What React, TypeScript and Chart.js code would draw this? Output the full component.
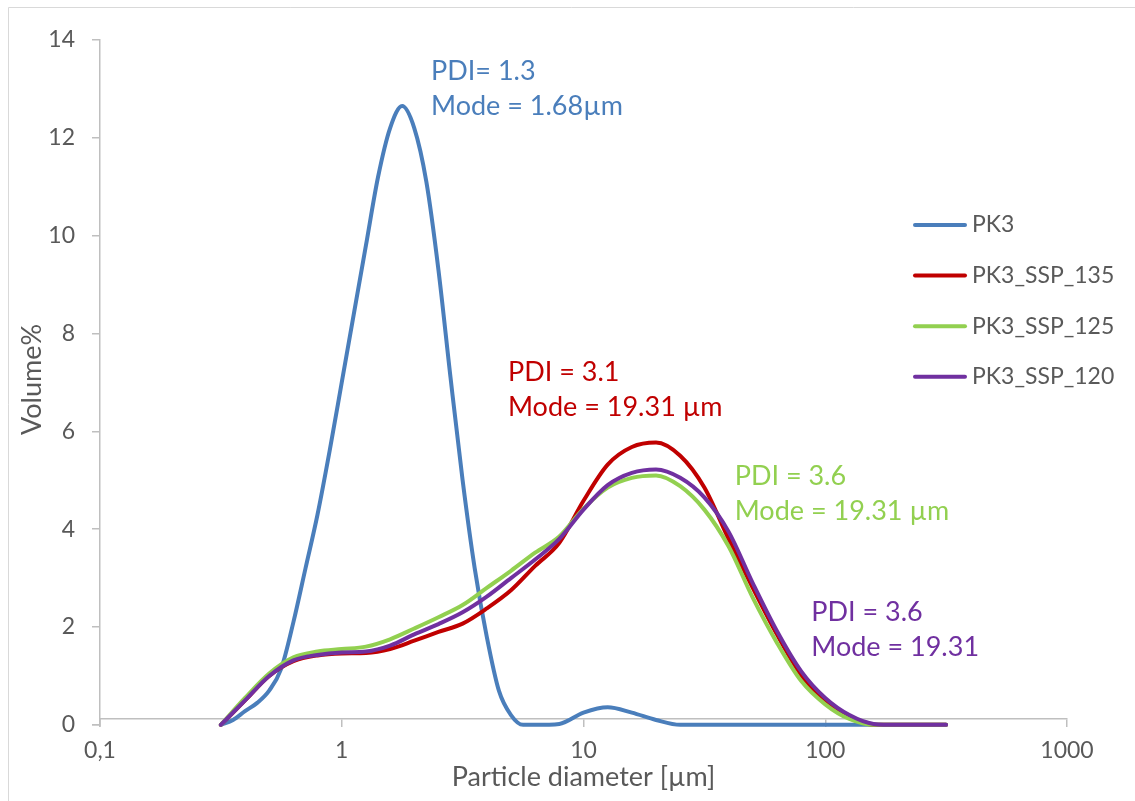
import React, { useEffect, useRef } from "react";
import { Chart, registerables } from "chart.js";

Chart.register(...registerables);

const FONT = "Lato, 'Open Sans', sans-serif";
const AXIS_COLOR = "#BFBFBF";
const TEXT_COLOR = "#595959";

// ---- data ----
const seriesLabels = ["PK3", "PK3_SSP_135", "PK3_SSP_125", "PK3_SSP_120"];
const seriesColors = ["#4A7EBB", "#C00000", "#92D050", "#7030A0"];

const pk3Sizes = [
  0.316, 0.355, 0.398, 0.447, 0.501, 0.562, 0.631, 0.708, 0.794, 0.891, 1.0,
  1.122, 1.259, 1.413, 1.585, 1.778, 1.995, 2.239, 2.512, 2.818, 3.162, 3.548,
  3.981, 4.467, 5.012, 5.623, 6.31, 7.943, 10, 12.59, 15.85, 19.95, 25.12,
  31.62, 50.12, 100, 199.5, 316.2,
];
const pk3Volume = [
  0, 0.1, 0.28, 0.45, 0.7, 1.15, 2.1, 3.2, 4.3, 5.6, 7.0, 8.4, 9.8, 11.2, 12.2,
  12.65, 12.2, 11.1, 9.3, 7.1, 5.0, 3.2, 1.8, 0.7, 0.2, 0, 0, 0.02, 0.25, 0.36,
  0.25, 0.1, 0, 0, 0, 0, 0, 0,
];

const sspSizes = [
  0.316, 0.398, 0.501, 0.631, 0.794, 1.0, 1.259, 1.585, 1.995, 2.512, 3.162,
  3.981, 5.012, 6.31, 7.943, 10, 12.59, 15.85, 19.95, 25.12, 31.62, 39.81,
  50.12, 63.1, 79.43, 100, 125.9, 158.5, 199.5, 251.2, 316.2,
];
const ssp135Volume = [
  0, 0.5, 1.0, 1.3, 1.42, 1.46, 1.47, 1.55, 1.72, 1.9, 2.07, 2.38, 2.75, 3.25,
  3.72, 4.58, 5.32, 5.68, 5.77, 5.5, 4.85, 3.8, 2.8, 1.85, 1.02, 0.5, 0.17, 0,
  0, 0, 0,
];
const ssp125Volume = [
  0, 0.55, 1.05, 1.38, 1.5, 1.55, 1.6, 1.75, 1.97, 2.2, 2.45, 2.8, 3.15, 3.52,
  3.85, 4.42, 4.85, 5.05, 5.1, 4.88, 4.4, 3.65, 2.6, 1.68, 0.9, 0.42, 0.12, 0,
  0, 0, 0,
];
const ssp120Volume = [
  0, 0.5, 1.0, 1.32, 1.43, 1.48, 1.5, 1.62, 1.85, 2.06, 2.3, 2.62, 3.0, 3.38,
  3.8, 4.4, 4.9, 5.15, 5.22, 5.05, 4.65, 3.95, 2.9, 1.92, 1.1, 0.55, 0.2, 0.02,
  0, 0, 0,
];

const xTickValues = [0.1, 1, 10, 100, 1000];
const xTickLabels = ["0,1", "1", "10", "100", "1000"];
const yTickValues = [0, 2, 4, 6, 8, 10, 12, 14];
const yAxisCross = 0.12; // the x axis crosses slightly above the data zero
const yMax = 14;

const noteTexts = [
  ["PDI= 1.3", "Mode = 1.68µm"],
  ["PDI = 3.1", "Mode = 19.31 µm"],
  ["PDI = 3.6", "Mode = 19.31 µm"],
  ["PDI = 3.6", "Mode = 19.31"],
];
const noteX = [2.34, 4.87, 42.2, 87.5];
const noteY = [13.36, 7.21, 5.09, 2.31];

// ---- layout (pixels) ----
const W = 1135;
const H = 801;
const LEGEND_X = 913;
const LEGEND_TOP = 225;
const LEGEND_STEP = 50.6;
const NOTE_LINE = 35;
const TICK_LEN = 8;

function pairs(xs: number[], ys: number[]) {
  return xs.map((x, i) => ({ x, y: ys[i] }));
}

const decorPlugin = {
  id: "decor",
  beforeDraw(chart: any) {
    const ctx = chart.ctx;
    ctx.save();
    ctx.fillStyle = "#ffffff";
    ctx.fillRect(0, 0, chart.width, chart.height);
    ctx.strokeStyle = "#D9D9D9";
    ctx.lineWidth = 1;
    ctx.beginPath();
    ctx.moveTo(8.5, chart.height);
    ctx.lineTo(8.5, 7.5);
    ctx.lineTo(chart.width, 7.5);
    ctx.stroke();
    ctx.restore();
  },
  afterDraw(chart: any) {
    const ctx = chart.ctx;
    const xs = chart.scales.x;
    const ys = chart.scales.y;
    const area = chart.chartArea;
    ctx.save();
    // y axis continues below the crossing point down to its zero tick
    const zeroPx = ys.getPixelForValue(0);
    ctx.strokeStyle = AXIS_COLOR;
    ctx.lineWidth = 1.5;
    ctx.beginPath();
    ctx.moveTo(area.left, area.bottom);
    ctx.lineTo(area.left, zeroPx + 2);
    ctx.moveTo(area.left - TICK_LEN, zeroPx);
    ctx.lineTo(area.left, zeroPx);
    ctx.stroke();

    ctx.textBaseline = "middle";
    ctx.textAlign = "left";
    ctx.font = `27px ${FONT}`;
    noteTexts.forEach((lines, i) => {
      const px = xs.getPixelForValue(noteX[i]);
      const py = ys.getPixelForValue(noteY[i]);
      ctx.fillStyle = seriesColors[i];
      lines.forEach((t, j) => ctx.fillText(t, px, py + j * NOTE_LINE));
    });
    ctx.font = `23px ${FONT}`;
    chart.data.datasets.forEach((ds: any, i: number) => {
      const y = LEGEND_TOP + i * LEGEND_STEP;
      ctx.strokeStyle = ds.borderColor;
      ctx.lineWidth = 4;
      ctx.lineCap = "round";
      ctx.beginPath();
      ctx.moveTo(LEGEND_X + 2, y);
      ctx.lineTo(LEGEND_X + 52, y);
      ctx.stroke();
      ctx.fillStyle = TEXT_COLOR;
      ctx.fillText(ds.label, LEGEND_X + 59, y);
    });
    ctx.restore();
  },
};

export default function App() {
  const canvasRef = useRef<HTMLCanvasElement | null>(null);

  useEffect(() => {
    if (!canvasRef.current) return;
    Chart.defaults.font.family = FONT;
    const seriesData = [
      pairs(pk3Sizes, pk3Volume),
      pairs(sspSizes, ssp135Volume),
      pairs(sspSizes, ssp125Volume),
      pairs(sspSizes, ssp120Volume),
    ];
    const chart = new Chart(canvasRef.current, {
      type: "line",
      data: {
        datasets: seriesData.map((d, i) => ({
          label: seriesLabels[i],
          data: d,
          borderColor: seriesColors[i],
          backgroundColor: seriesColors[i],
          borderWidth: 4,
          pointRadius: 0,
          pointHoverRadius: 0,
          fill: false,
          clip: false as any,
          cubicInterpolationMode: "monotone" as const,
          borderCapStyle: "round" as const,
          borderJoinStyle: "round" as const,
          order: seriesData.length - 1 - i,
        })),
      },
      options: {
        animation: false,
        responsive: true,
        maintainAspectRatio: false,
        layout: { padding: { left: 0, top: 40, right: 68, bottom: 0 } },
        plugins: {
          legend: { display: false },
          tooltip: { enabled: false },
        },
        scales: {
          x: {
            type: "logarithmic",
            position: "bottom",
            min: xTickValues[0],
            max: xTickValues[xTickValues.length - 1],
            afterBuildTicks: (s: any) => {
              s.ticks = xTickValues.map((v) => ({ value: v }));
            },
            afterFit: (s: any) => {
              s.height = 82;
            },
            grid: {
              drawOnChartArea: false,
              drawTicks: true,
              tickLength: TICK_LEN,
              color: AXIS_COLOR,
              lineWidth: 1.5,
            },
            border: { display: true, color: AXIS_COLOR, width: 1.5 },
            ticks: {
              color: TEXT_COLOR,
              font: { size: 23 },
              padding: 10,
              autoSkip: false,
              maxRotation: 0,
              callback: (_v: any, i: number) => xTickLabels[i],
            },
            title: {
              display: true,
              text: "Particle diameter [µm]",
              color: TEXT_COLOR,
              font: { size: 27 },
              padding: { top: 0, bottom: 8 },
            },
          },
          y: {
            type: "linear",
            position: "left",
            min: yAxisCross,
            max: yMax,
            afterBuildTicks: (s: any) => {
              s.ticks = yTickValues.map((v) => ({ value: v }));
            },
            afterFit: (s: any) => {
              s.width = 100;
            },
            ticks: {
              color: TEXT_COLOR,
              font: { size: 23 },
              padding: 17,
              callback: (v: any) => String(v),
            },
            grid: {
              drawOnChartArea: false,
              drawTicks: true,
              tickLength: TICK_LEN,
              color: AXIS_COLOR,
              lineWidth: 1.5,
            },
            border: { display: true, color: AXIS_COLOR, width: 1.5 },
            title: {
              display: true,
              text: "Volume%",
              color: TEXT_COLOR,
              font: { size: 27 },
              padding: { top: 16, bottom: 0 },
            },
          },
        },
      },
      plugins: [decorPlugin],
    });
    return () => chart.destroy();
  }, []);

  return (
    <div
      style={{
        position: "fixed",
        left: 0,
        top: 0,
        width: W,
        height: H,
        background: "#ffffff",
      }}
    >
      <canvas ref={canvasRef} />
    </div>
  );
}
